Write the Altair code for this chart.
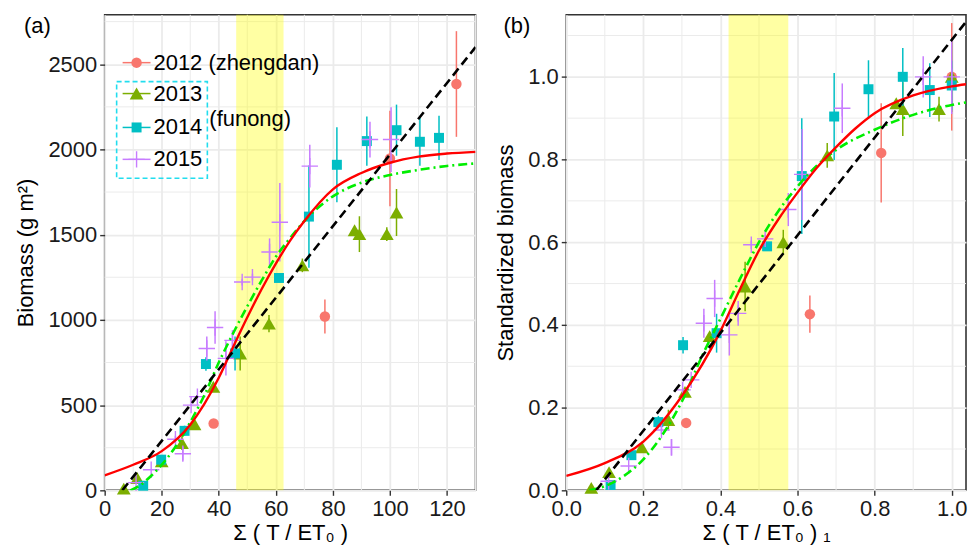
import altair as alt
import pandas as pd

FONT = "Liberation Sans"
FS = 22

# ---------------- panel (a): biomass ----------------
a12_x = [38.2, 77.2, 100.0, 123.3]
a12_y = [392, 1020, 1947, 2384]
a12_e = [0, 100, 280, 310]

a13_x = [6.7, 11.4, 20.0, 27.1, 31.5, 38.1, 47.5, 57.6, 69.3, 87.6, 89.3, 98.9, 102.3]
a13_y = [10, 72, 170, 277, 388, 608, 803, 978, 1320, 1526, 1503, 1503, 1630]
a13_e = [0, 0, 0, 40, 0, 0, 100, 50, 40, 0, 105, 40, 138]

a14_x = [13.5, 19.8, 28.0, 35.5, 45.7, 61.1, 71.6, 81.4, 91.9, 102.3, 110.5, 117.2]
a14_y = [27, 180, 349, 741, 803, 1246, 1606, 1910, 2049, 2113, 2045, 2068]
a14_e = [0, 0, 30, 40, 100, 20, 300, 220, 145, 150, 140, 130]

a15_x = [11.0, 16.3, 24.8, 27.4, 30.3, 32.5, 35.8, 38.7, 42.5, 44.8, 48.2, 51.8, 57.8, 61.4, 71.9, 93.0, 100.4]
a15_y = [45, 121, 300, 215, 500, 550, 832, 955, 774, 880, 1222, 1251, 1398, 1573, 1902, 2058, 2058]
a15_e = [0, 0, 20, 40, 0, 0, 70, 95, 100, 60, 20, 20, 80, 230, 125, 105, 190]

red_a_x = [0, 10, 20, 30, 40, 45, 50, 55, 60, 65, 70, 80, 90, 100, 110, 120, 130]
red_a_y = [88, 150, 230, 385, 660, 840, 1015, 1180, 1330, 1465, 1580, 1766, 1862, 1922, 1958, 1976, 1986]
green_a_x = [9, 12, 15, 20, 25, 30, 35, 40, 45, 50, 55, 60, 65, 70, 80, 90, 100, 110, 120, 130]
green_a_y = [0, 25, 65, 150, 260, 400, 560, 750, 920, 1080, 1230, 1370, 1480, 1580, 1725, 1805, 1850, 1880, 1903, 1918]
black_a_x = [6.2, 130]
black_a_y = [0, 2600]
band_a = [46.1, 62.7]

a_xticks = [0, 20, 40, 60, 80, 100, 120]
a_xminor = [10, 30, 50, 70, 90, 110, 130]
a_yticks = [0, 500, 1000, 1500, 2000, 2500]
a_yminor = [250, 750, 1250, 1750, 2250, 2750]

# ---------------- panel (b): standardized ----------------
b12_x = [0.311, 0.632, 0.817, 1.0]
b12_y = [0.163, 0.426, 0.816, 1.0]
b12_e = [0, 0.045, 0.12, 0.13]

b13_x = [0.065, 0.111, 0.196, 0.265, 0.308, 0.372, 0.464, 0.563, 0.677, 0.856, 0.873, 0.967, 1.0]
b13_y = [0.006, 0.044, 0.104, 0.17, 0.238, 0.373, 0.493, 0.6, 0.81, 0.936, 0.922, 0.922, 1.0]
b13_e = [0, 0, 0, 0.025, 0, 0, 0.06, 0.03, 0.03, 0, 0.065, 0.03, 0.085]

b14_x = [0.115, 0.169, 0.239, 0.303, 0.39, 0.521, 0.611, 0.695, 0.784, 0.873, 0.943, 1.0]
b14_y = [0.013, 0.085, 0.165, 0.351, 0.38, 0.59, 0.76, 0.904, 0.97, 1.0, 0.968, 0.979]
b14_e = [0, 0, 0.015, 0.02, 0.047, 0.01, 0.14, 0.105, 0.07, 0.07, 0.065, 0.06]

b15_x = [0.11, 0.162, 0.247, 0.273, 0.302, 0.324, 0.357, 0.385, 0.423, 0.446, 0.48, 0.516, 0.576, 0.612, 0.716, 0.926, 1.0]
b15_y = [0.022, 0.059, 0.146, 0.104, 0.243, 0.267, 0.404, 0.464, 0.376, 0.428, 0.594, 0.608, 0.679, 0.764, 0.924, 1.0, 1.0]
b15_e = [0, 0, 0.01, 0.02, 0, 0, 0.035, 0.045, 0.05, 0.03, 0.01, 0.01, 0.04, 0.11, 0.06, 0.05, 0.09]

red_b_x = [0, 0.1, 0.2, 0.3, 0.4, 0.45, 0.5, 0.55, 0.6, 0.65, 0.7, 0.75, 0.8, 0.9, 1.0, 1.037]
red_b_y = [0.035, 0.066, 0.118, 0.228, 0.385, 0.485, 0.58, 0.655, 0.72, 0.78, 0.83, 0.875, 0.912, 0.955, 0.977, 0.982]
green_b_x = [0.06, 0.1, 0.15, 0.2, 0.25, 0.3, 0.35, 0.4, 0.45, 0.5, 0.55, 0.6, 0.65, 0.7, 0.8, 0.9, 1.0, 1.037]
green_b_y = [0, 0.01, 0.035, 0.075, 0.135, 0.215, 0.32, 0.415, 0.51, 0.6, 0.675, 0.735, 0.785, 0.823, 0.872, 0.908, 0.932, 0.938]
black_b_x = [0.078, 1.037]
black_b_y = [0, 1.133]
band_b = [0.421, 0.576]

b_xticks = [0, 0.2, 0.4, 0.6, 0.8, 1.0]
b_xminor = [0.1, 0.3, 0.5, 0.7, 0.9]
b_yticks = [0, 0.2, 0.4, 0.6, 0.8, 1.0]
b_yminor = [0.1, 0.3, 0.5, 0.7, 0.9, 1.1]

years = ["2012", "2013", "2014", "2015"]
colors = {"2012": "#F8766D", "2013": "#7CAE00", "2014": "#00BFC4", "2015": "#C77CFF"}
PLUS = "M-1,0H1M0,-1V1"
shapes = {"2012": ("circle", 110), "2013": ("triangle-up", 190), "2014": ("square", 100), "2015": (PLUS, 270)}

ONE = pd.DataFrame({"k": [0]})


def panel(data, curves, band, xdom, ydom, xt, xm, yt, ym, w, h, xtitle, ytitle, fmt, tag, tagx, legend):
    xsc = alt.Scale(domain=xdom, nice=False, zero=False)
    ysc = alt.Scale(domain=ydom, nice=False, zero=False)
    xa = alt.Axis(values=xt, title=xtitle, format=fmt, labelFlush=False)
    ya = alt.Axis(values=yt, title=ytitle, format=fmt)

    def X(f):
        return alt.X(f, scale=xsc, axis=xa)

    def Y(f):
        return alt.Y(f, scale=ysc, axis=ya)

    layers = []
    layers.append(alt.Chart(pd.DataFrame({"v": xm})).mark_rule(color="#EBEBEB", strokeWidth=1).encode(
        x=X("v:Q")))
    layers.append(alt.Chart(pd.DataFrame({"v": ym})).mark_rule(color="#EBEBEB", strokeWidth=1).encode(
        y=Y("v:Q")))
    layers.append(alt.Chart(pd.DataFrame({"x0": [band[0]], "x1": [band[1]]})).mark_rect(
        color="#FFFF00", opacity=0.36).encode(
        x=X("x0:Q"), x2="x1:Q", y=alt.value(0), y2=alt.value(h)))
    for yr, (xs, ys, es) in zip(years, data):
        df = pd.DataFrame({"x": xs, "y": ys, "e": es})
        df["lo"] = df["y"] - df["e"]
        df["hi"] = df["y"] + df["e"]
        c = colors[yr]
        eb = df[df["e"] > 0]
        if len(eb):
            layers.append(alt.Chart(eb).mark_rule(color=c, strokeWidth=1.5).encode(
                x=X("x:Q"), y=Y("lo:Q"), y2="hi:Q"))
        shp, size = shapes[yr]
        if shp == PLUS:
            m = alt.Chart(df).mark_point(shape=shp, filled=False, size=size, color=c,
                                         strokeWidth=1.4, opacity=1)
        else:
            m = alt.Chart(df).mark_point(shape=shp, filled=True, size=size, color=c, opacity=1)
        layers.append(m.encode(x=X("x:Q"), y=Y("y:Q")))
    styles = [("#00EE00", 2.6, [9, 4, 2, 4]), ("#FF0000", 2.4, None), ("#000000", 2.6, [9, 5])]
    for (cx, cy), (col, wd, dash) in zip(curves, styles):
        kw = dict(color=col, strokeWidth=wd, interpolate="monotone", clip=True)
        if dash:
            kw["strokeDash"] = dash
        layers.append(alt.Chart(pd.DataFrame({"x": cx, "y": cy})).mark_line(**kw).encode(
            x=X("x:Q"), y=Y("y:Q")))
    layers.append(alt.Chart(ONE).mark_text(text=tag, align="left", baseline="middle", font=FONT,
                                           fontSize=FS, color="#000").encode(
        x=alt.value(tagx), y=alt.value(11)))
    if legend:
        rows = [("2012", 48, "2012 (zhengdan)"), ("2013", 79, "2013"), ("2014", 113, "2014"), ("2015", 145, "2015")]
        layers.append(alt.Chart(ONE).mark_rect(fill="transparent", stroke="#22DDEE", strokeWidth=1.6,
                                               strokeDash=[5, 3]).encode(
            x=alt.value(12), x2=alt.value(103), y=alt.value(67), y2=alt.value(164)))
        for yr, yy, lab in rows:
            c = colors[yr]
            layers.append(alt.Chart(ONE).mark_rule(color=c, strokeWidth=1.5).encode(
                x=alt.value(18), x2=alt.value(46), y=alt.value(yy)))
            shp, size = shapes[yr]
            if shp == PLUS:
                pm = alt.Chart(ONE).mark_point(shape=shp, filled=False, size=size, color=c,
                                               strokeWidth=1.4, opacity=1)
            else:
                pm = alt.Chart(ONE).mark_point(shape=shp, filled=True, size=size, color=c, opacity=1)
            layers.append(pm.encode(x=alt.value(32), y=alt.value(yy)))
            layers.append(alt.Chart(ONE).mark_text(text=lab, align="left", baseline="middle", font=FONT,
                                                   fontSize=FS, color="#000").encode(
                x=alt.value(49), y=alt.value(yy)))
        layers.append(alt.Chart(ONE).mark_text(text="(funong)", align="left", baseline="middle", font=FONT,
                                               fontSize=FS, color="#000").encode(
            x=alt.value(105), y=alt.value(105)))
    return alt.layer(*layers).properties(width=w, height=h)


pa = panel(
    [(a12_x, a12_y, a12_e), (a13_x, a13_y, a13_e), (a14_x, a14_y, a14_e), (a15_x, a15_y, a15_e)],
    [(green_a_x, green_a_y), (red_a_x, red_a_y), (black_a_x, black_a_y)],
    band_a, [0, 130], [0, 2790], a_xticks, a_xminor, a_yticks, a_yminor, 372, 477,
    "Σ ( T / ET₀ )", "Biomass (g m²)", "d", "(a)", -81, True)

pb = panel(
    [(b12_x, b12_y, b12_e), (b13_x, b13_y, b13_e), (b14_x, b14_y, b14_e), (b15_x, b15_y, b15_e)],
    [(green_b_x, green_b_y), (red_b_x, red_b_y), (black_b_x, black_b_y)],
    band_b, [0, 1.037], [0, 1.15], b_xticks, b_xminor, b_yticks, b_yminor, 401, 477,
    "Σ ( T / ET₀ ) ₁", "Standardized biomass", ".1f", "(b)", -63, False)

chart = alt.hconcat(pa, pb, spacing=16).properties(
    padding={"left": 14, "top": 12, "right": 0, "bottom": 0}, background="white"
).configure_view(stroke="#333333", strokeWidth=1.6).configure_axis(
    domain=False, grid=True, gridColor="#EBEBEB", gridWidth=1.8,
    tickColor="#333333", tickSize=5, tickWidth=1.4,
    labelFont=FONT, labelFontSize=FS, labelColor="#1a1a1a", labelPadding=3,
    titleFont=FONT, titleFontSize=FS, titleFontWeight="normal", titleColor="#000",
    titlePadding=10
).configure_axisX(titlePadding=3, labelPadding=3)

chart.save("out.html", embed_options={"renderer": "svg", "actions": False})
